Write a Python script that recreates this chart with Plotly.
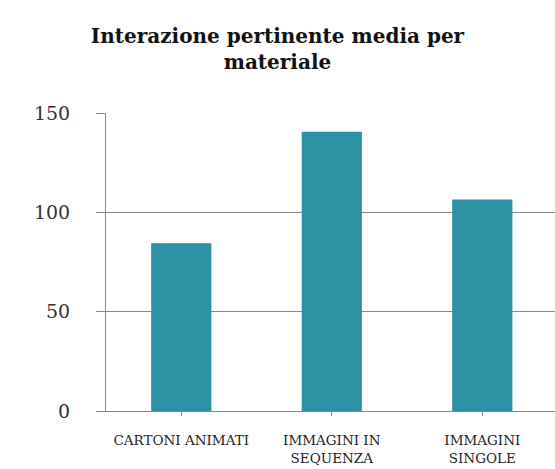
import plotly.graph_objects as go

categories = ["CARTONI ANIMATI", "IMMAGINI IN<br>SEQUENZA", "IMMAGINI<br>SINGOLE"]
values = [84.5, 140.5, 106.5]
y_ticks = [0, 50, 100, 150]
title_text = "Interazione pertinente media per<br>materiale"

fig = go.Figure()
fig.add_trace(go.Bar(
    x=list(range(len(categories))),
    y=values,
    width=0.4,
    marker=dict(color="#2D91A5", line=dict(width=0)),
))

fig.update_layout(
    width=555, height=469,
    margin=dict(l=106, r=0, t=113, b=58),
    paper_bgcolor="white", plot_bgcolor="white",
    showlegend=False,
    title=dict(text="<b>" + title_text + "</b>", x=0.5, xanchor="center",
               y=1 - 43 / 469, yanchor="top",
               font=dict(family="DejaVu Serif", size=20, color="#111")),
    font=dict(family="DejaVu Serif", color="#222"),
    bargap=0.6,
)
fig.update_xaxes(
    range=[-0.5, 2.483],
    tickmode="array",
    tickvals=list(range(len(categories))),
    ticktext=categories,
    tickson="boundaries",
    ticks="outside", ticklen=4, tickcolor="#888",
    showline=True, linecolor="#888", linewidth=1,
    showgrid=False, zeroline=False,
    tickfont=dict(family="DejaVu Serif", size=13.5, color="#222"),
    ticklabelstandoff=13,
)
fig.update_yaxes(
    range=[0, 150],
    tickmode="array", tickvals=y_ticks,
    ticks="outside", ticklen=9, tickcolor="#888",
    showline=True, linecolor="#888", linewidth=1,
    showgrid=True, gridcolor="#888", gridwidth=1,
    zeroline=False,
    tickfont=dict(family="DejaVu Serif", size=19, color="#333"),
    ticklabelstandoff=22,
)

fig.write_html("out.html")
